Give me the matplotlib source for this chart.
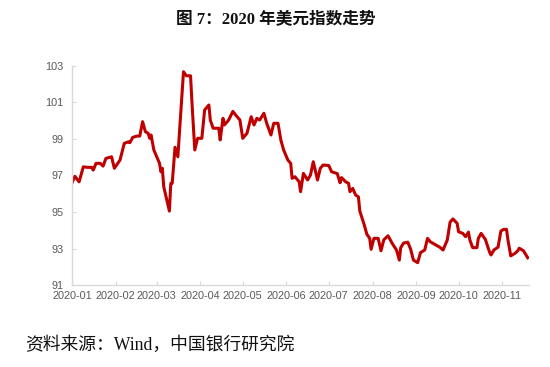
import matplotlib
matplotlib.use("Agg")
import matplotlib.pyplot as plt
import pandas as pd

# ---- data ----
dates = [
    "2020-01-01", "2020-01-03", "2020-01-06", "2020-01-09", "2020-01-12", "2020-01-15",
    "2020-01-16", "2020-01-18", "2020-01-21", "2020-01-23", "2020-01-25", "2020-01-29",
    "2020-01-31", "2020-02-04", "2020-02-07", "2020-02-10", "2020-02-11", "2020-02-13",
    "2020-02-16", "2020-02-18", "2020-02-20", "2020-02-22", "2020-02-24", "2020-02-25",
    "2020-02-26", "2020-02-28", "2020-03-01", "2020-03-03", "2020-03-04", "2020-03-05",
    "2020-03-06", "2020-03-10", "2020-03-11", "2020-03-12", "2020-03-14", "2020-03-16",
    "2020-03-20", "2020-03-22", "2020-03-25", "2020-03-26", "2020-03-28", "2020-03-30",
    "2020-04-02", "2020-04-04", "2020-04-07", "2020-04-08", "2020-04-10", "2020-04-14",
    "2020-04-15", "2020-04-17", "2020-04-18", "2020-04-21", "2020-04-24", "2020-04-26",
    "2020-04-29", "2020-05-01", "2020-05-04", "2020-05-07", "2020-05-09", "2020-05-11",
    "2020-05-13", "2020-05-16", "2020-05-18", "2020-05-21", "2020-05-23", "2020-05-26",
    "2020-05-28", "2020-05-30", "2020-06-02", "2020-06-04", "2020-06-05", "2020-06-07",
    "2020-06-10", "2020-06-11", "2020-06-13", "2020-06-16", "2020-06-18", "2020-06-20",
    "2020-06-23", "2020-06-25", "2020-06-27", "2020-07-01", "2020-07-03", "2020-07-07",
    "2020-07-09", "2020-07-10", "2020-07-13", "2020-07-15", "2020-07-16", "2020-07-18",
    "2020-07-20", "2020-07-22", "2020-07-23", "2020-07-26", "2020-07-28", "2020-07-30",
    "2020-07-31", "2020-08-02", "2020-08-05", "2020-08-07", "2020-08-09", "2020-08-12",
    "2020-08-15", "2020-08-18", "2020-08-20", "2020-08-21", "2020-08-23", "2020-08-26",
    "2020-08-28", "2020-08-30", "2020-09-02", "2020-09-04", "2020-09-07", "2020-09-09",
    "2020-09-11", "2020-09-15", "2020-09-18", "2020-09-20", "2020-09-23", "2020-09-25",
    "2020-09-27", "2020-09-30", "2020-10-01", "2020-10-04", "2020-10-06", "2020-10-08",
    "2020-10-09", "2020-10-11", "2020-10-14", "2020-10-15", "2020-10-17", "2020-10-20",
    "2020-10-23", "2020-10-24", "2020-10-26", "2020-10-29", "2020-10-31", "2020-11-02",
    "2020-11-04", "2020-11-05", "2020-11-07", "2020-11-10", "2020-11-12", "2020-11-13",
    "2020-11-16", "2020-11-19",
]
dxy = [
    96.60, 96.95, 96.65, 97.47, 97.44, 97.44,
    97.29, 97.66, 97.66, 97.51, 97.93, 98.02,
    97.39, 97.84, 98.75, 98.84, 98.79, 99.08,
    99.15, 99.15, 99.94, 99.39, 99.30, 99.03,
    99.21, 98.39, 98.02, 97.66, 97.20, 97.39,
    96.38, 95.05, 96.57, 96.57, 98.54, 98.02,
    102.67, 102.45, 102.45, 101.00, 98.39, 99.03,
    99.03, 100.58, 100.85, 100.03, 99.58, 99.58,
    98.94, 100.12, 99.76, 100.03, 100.50, 100.30,
    100.03, 99.03, 99.30, 100.21, 99.76, 100.12,
    100.03, 100.40, 99.85, 99.21, 99.85, 99.85,
    98.94, 98.39, 97.84, 97.66, 96.84, 96.93,
    96.65, 96.11, 97.11, 96.75, 97.02, 97.75,
    96.75, 97.39, 97.57, 97.54, 97.20, 97.10,
    96.60, 96.88, 96.65, 96.57, 96.11, 96.29,
    95.93, 95.83, 95.05, 94.33, 93.78, 93.56,
    92.96, 93.56, 93.56, 92.88, 93.48, 93.70,
    93.28, 92.92, 92.37, 93.05, 93.30, 93.35,
    92.97, 92.37, 92.23, 92.78, 92.92, 93.56,
    93.37, 93.19, 93.06, 92.92, 93.47, 94.45,
    94.62, 94.38, 93.92, 93.83, 93.65, 93.90,
    93.47, 93.05, 93.05, 93.56, 93.83, 93.50,
    92.80, 92.65, 92.92, 93.08, 93.96, 94.05,
    94.05, 93.47, 92.60, 92.74, 92.88, 93.02,
    92.88, 92.50,
]
y_ticks = [91, 93, 95, 97, 99, 101, 103]
x_tick_labels = ["2020-01", "2020-02", "2020-03", "2020-04", "2020-05", "2020-06",
                 "2020-07", "2020-08", "2020-09", "2020-10", "2020-11"]
title = "图 7：2020 年美元指数走势"
source = "资料来源：Wind，中国银行研究院"

# ---- figure ----
fig = plt.figure(figsize=(5.5, 3.67), dpi=100)
ax = fig.add_axes([0.131, 0.223, 0.831, 0.598])

x = pd.to_datetime(dates)
ax.plot(x, dxy, color="#C00000", lw=2.2, solid_joinstyle="round")

ax.set_ylim(91, 103)
ax.set_yticks(y_ticks)
ax.set_xlim(pd.Timestamp("2020-01-01"), pd.Timestamp("2020-11-20"))
ax.set_xticks(pd.to_datetime([s + "-01" for s in x_tick_labels]))
ax.set_xticklabels(x_tick_labels)

for side in ["top", "right"]:
    ax.spines[side].set_visible(False)
for side in ["left", "bottom"]:
    ax.spines[side].set_color("#d9d9d9")
    ax.spines[side].set_linewidth(1.0)

ax.tick_params(axis="both", direction="in", length=3, width=0.8, color="#d9d9d9",
               labelcolor="#595959")
ax.tick_params(axis="x", pad=4)
ax.tick_params(axis="y", pad=6)
for lab in ax.get_xticklabels() + ax.get_yticklabels():
    lab.set_family(["Liberation Sans", "DejaVu Sans"])
    lab.set_fontsize(7.8)

fig.text(0.502, 0.945, title, ha="center", va="center", fontsize=12, fontweight="bold",
         family=["Liberation Serif", "Noto Sans CJK SC"], color="#111111")
fig.text(0.045, 0.06, source, ha="left", va="center", fontsize=12.8,
         family=["Liberation Serif", "Noto Sans CJK SC"], color="#111111")

fig.savefig("out.png", dpi=100)
